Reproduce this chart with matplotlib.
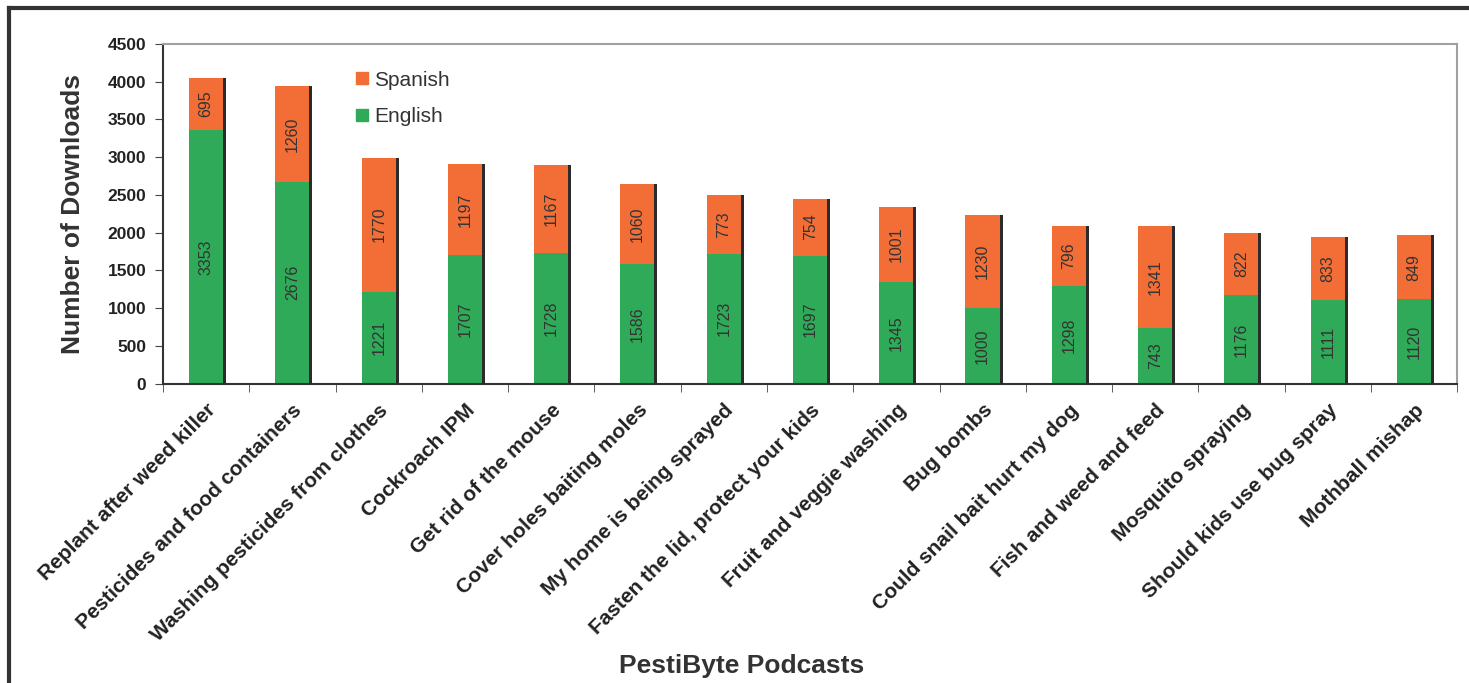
import matplotlib
matplotlib.use("Agg")
import matplotlib.pyplot as plt
from matplotlib.lines import Line2D
import numpy as np

plt.rcParams['font.family'] = ['Liberation Sans', 'DejaVu Sans']

podcasts = [
    "Replant after weed killer", "Pesticides and food containers",
    "Washing pesticides from clothes", "Cockroach IPM", "Get rid of the mouse",
    "Cover holes baiting moles", "My home is being sprayed",
    "Fasten the lid, protect your kids", "Fruit and veggie washing", "Bug bombs",
    "Could snail bait hurt my dog", "Fish and weed and feed",
    "Mosquito spraying", "Should kids use bug spray", "Mothball mishap",
]
english = [3353, 2676, 1221, 1707, 1728, 1586, 1723, 1697, 1345, 1000, 1298, 743, 1176, 1111, 1120]
spanish = [695, 1260, 1770, 1197, 1167, 1060, 773, 754, 1001, 1230, 796, 1341, 822, 833, 849]
yticks = [0, 500, 1000, 1500, 2000, 2500, 3000, 3500, 4000, 4500]

GREEN = "#2EAA58"
ORANGE = "#F26E36"

fig = plt.figure(figsize=(14.69, 6.83), dpi=100)
ax = fig.add_axes([0.111, 0.438, 0.881, 0.498])

x = np.arange(len(podcasts))
eng = np.array(english)
spa = np.array(spanish)
w = 0.40

ax.bar(x, eng, width=w, color=GREEN, zorder=2)
ax.bar(x, spa, width=w, bottom=eng, color=ORANGE, zorder=2)
# dark shadow edge on the right of each bar
sw = 0.035
ax.bar(x + w / 2 + sw / 2 - 0.005, eng + spa, width=sw, color="#2b2b2b", zorder=3)

for xi, e, s in zip(x, eng, spa):
    ax.text(xi, e / 2, str(e), rotation=90, ha="center", va="center",
            fontsize=11.5, color="#333333", zorder=4)
    ax.text(xi, e + s / 2, str(s), rotation=90, ha="center", va="center",
            fontsize=11.5, color="#333333", zorder=4)

ax.set_xlim(-0.5, len(podcasts) - 0.5)
ax.set_ylim(0, 4500)
ax.set_yticks(yticks)
ax.set_yticklabels([str(v) for v in yticks], fontsize=12.5, fontweight="bold", color="#222222")
ax.set_xticks(x)
ax.set_xticklabels(podcasts, rotation=45, ha="right", rotation_mode="anchor",
                   fontsize=15, fontweight="bold", color="#222222")
ax.tick_params(axis="x", length=0, pad=12)
ax.set_xticks(np.arange(-0.5, len(podcasts) + 0.5, 1), minor=True)
ax.tick_params(axis="x", which="minor", length=6, color="#444444")
ax.tick_params(axis="y", length=6, color="#444444", pad=6)

for side in ("top", "right"):
    ax.spines[side].set_color("#a0a0a0")
    ax.spines[side].set_linewidth(1.5)
for side in ("left", "bottom"):
    ax.spines[side].set_color("#333333")
    ax.spines[side].set_linewidth(1.5)

ax.set_ylabel("Number of Downloads", fontsize=19, fontweight="bold", color="#333333", labelpad=16)
fig.text(0.505, 0.025, "PestiByte Podcasts", ha="center", va="center",
         fontsize=19, fontweight="bold", color="#333333")

handles = [
    Line2D([], [], marker="s", linestyle="none", markersize=9, color=ORANGE),
    Line2D([], [], marker="s", linestyle="none", markersize=9, color=GREEN),
]
ax.legend(handles, ["Spanish", "English"], loc="upper left",
          bbox_to_anchor=(0.228, 0.924), bbox_transform=fig.transFigure,
          frameon=False, fontsize=15, handlelength=0.8, handletextpad=0.2,
          labelspacing=0.85, labelcolor="#333333")

# outer frame
fig.add_artist(Line2D([9 / 1469, 9 / 1469], [0, 1 - 8 / 683], transform=fig.transFigure,
                      color="#333333", linewidth=3))
fig.add_artist(Line2D([9 / 1469, 1], [1 - 8 / 683, 1 - 8 / 683], transform=fig.transFigure,
                      color="#333333", linewidth=3))

fig.savefig("out.png", dpi=100)
